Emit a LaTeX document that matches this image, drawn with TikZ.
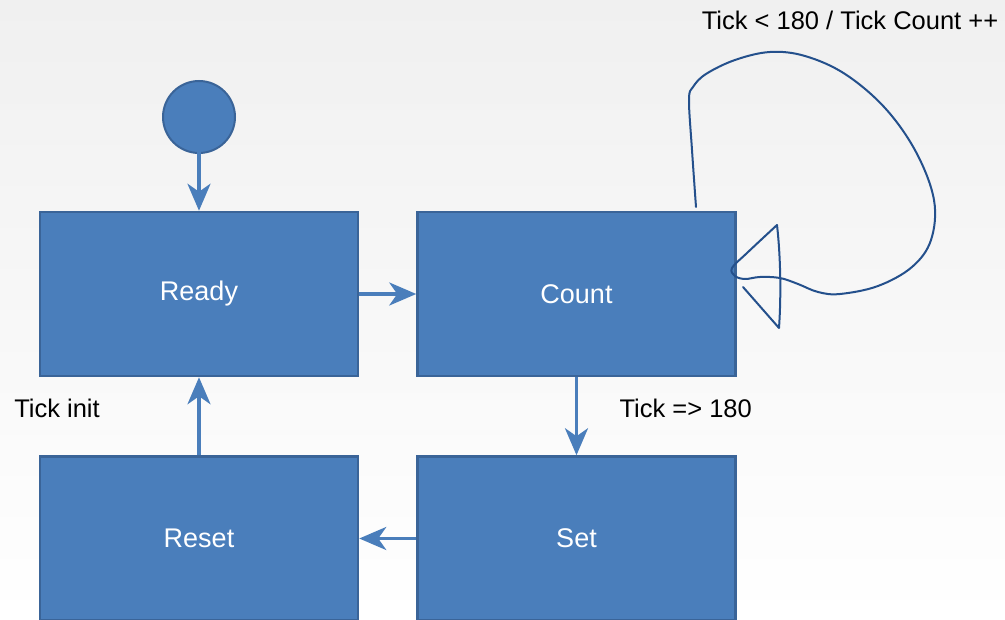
\documentclass[tikz,border=0pt]{standalone}
\usepackage{fontspec}
\setmainfont{Liberation Sans}
\usetikzlibrary{positioning,arrows.meta}

\definecolor{boxfill}{RGB}{74,126,187}
\definecolor{boxedge}{RGB}{58,100,152}
\definecolor{loopline}{RGB}{36,80,140}
\definecolor{bgtop}{RGB}{240,240,240}

\begin{document}
\begin{tikzpicture}[x=1pt, y=-1pt, node distance=57pt,
		state/.style = {draw=boxedge, fill=boxfill, line width=2.5pt, minimum width=318pt, minimum height=164pt, text=white, font=\fontsize{27}{31}\selectfont},
		startdot/.style = {draw=boxedge, fill=boxfill, line width=2pt, circle, minimum size=72pt, inner sep=0pt},
		trans/.style = {draw=boxfill, line width=3.5pt, -{Stealth[length=27pt, width=23pt, inset=8pt]}},
		lbl/.style = {font=\fontsize{25.5}{29}\selectfont}]
		\useasboundingbox (0,0) rectangle (1005,620);
		\fill[top color=bgtop, bottom color=white] (0,0) rectangle (1005,620);
		\node[startdot] (start) at (199,117) {};
		\node[state] (ready) at (199,294) {Ready};
		\node[state] (count) [right=of ready] {Count};
		\node[state] (reset) [below=78pt of ready] {Reset};
		\node[state] (set) [below=78pt of count] {Set};
		\draw[trans] (start.center) -- (ready);
		\draw[trans] (ready) -- (count);
		\draw[trans] (count) -- (set);
		\draw[trans] (set) -- (reset);
		\draw[trans] (reset) -- (ready);
		\node[lbl] (init) at (57,408) {Tick init};
		\node[lbl, anchor=west] (done) at (616,408) {Tick => 180};
		\node[lbl] (tick) at (850,20) {Tick < 180 / Tick Count ++};
		% hand drawn self loop on Count
		\coordinate (loopstart) at (696,207);
		\draw[loopline, line width=2pt, line cap=round, line join=round]
			(loopstart) plot[smooth, tension=0.6] coordinates {(696,207) (692,150) (689,100) (693,87) (706,74) (735,60) (770,52) (805,56) (845,74) (885,108) (916,152) (934,200) (931,240) (912,267) (878,286) (840,294) (818,292) (798,284) (780,278) (760,277) (745,279) (735,276) (732,268) (747,253) (777,225)}
			.. controls (781,260) and (781,300) .. (779,328) -- (743,287);
	\end{tikzpicture}
\end{document}
